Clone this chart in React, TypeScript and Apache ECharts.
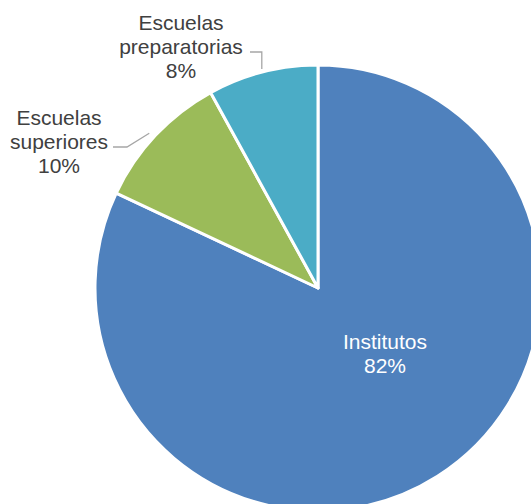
import React, { useEffect, useRef } from "react";
import * as echarts from "echarts";

const categories = ["Institutos", "Escuelas superiores", "Escuelas preparatorias"];
const values = [82, 10, 8];
const colors = ["#4F81BD", "#9BBB59", "#4BACC6"];

// label placement (label block centres) per category
const labelPos: Record<string, { x: number; y: number }> = {
  "Institutos": { x: 385, y: 353 },
  "Escuelas superiores": { x: 59, y: 141 },
  "Escuelas preparatorias": { x: 181, y: 46 },
};

export default function App() {
  const ref = useRef<HTMLDivElement>(null);
  useEffect(() => {
    if (!ref.current) return;
    const chart = echarts.init(ref.current, undefined, { renderer: "svg" });
    const data = categories.map((name, i) => ({
      name,
      value: values[i],
      itemStyle: { color: colors[i] },
      label:
        i === 0
          ? { position: "inside", color: "#ffffff" }
          : { position: "outside", color: "#404040" },
      labelLine: { show: i !== 0 },
    }));
    chart.setOption({
      animation: false,
      series: [
        {
          type: "pie",
          center: [318, 288],
          radius: 223,
          startAngle: 90,
          clockwise: true,
          avoidLabelOverlap: false,
          itemStyle: { borderColor: "#ffffff", borderWidth: 3 },
          label: {
            show: true,
            fontFamily: "Liberation Sans, Arial, sans-serif",
            fontSize: 21,
            lineHeight: 24,
            align: "center",
            formatter: (p: any) =>
              p.name.replace(" ", "\n") + "\n" + Math.round(p.percent) + "%",
          },
          labelLine: {
            show: true,
            lineStyle: { color: "#A6A6A6", width: 1.3 },
          },
          labelLayout: (params: any) => {
            const name = categories[params.dataIndex];
            const pos = labelPos[name];
            const out: any = { x: pos.x, y: pos.y, align: "center", verticalAlign: "middle" };
            const pts = params.labelLinePoints;
            if (pts && params.dataIndex !== 0) {
              const p0 = pts[0];
              const cx = 318, cy = 288;
              const dx = p0[0] - cx, dy = p0[1] - cy;
              const len = Math.sqrt(dx * dx + dy * dy);
              const s = [p0[0] + (dx / len) * 3, p0[1] + (dy / len) * 3];
              if (name === "Escuelas preparatorias") {
                out.labelLinePoints = [s, [s[0], 52], [250, 52]];
              } else {
                out.labelLinePoints = [[s[0] - 4, s[1]], [127, 147], [113, 147]];
              }
            }
            return out;
          },
          data,
        },
      ],
    });
    return () => chart.dispose();
  }, []);
  return (
    <div
      ref={ref}
      style={{ position: "fixed", left: 0, top: 0, width: 531, height: 504, background: "#ffffff" }}
    />
  );
}
